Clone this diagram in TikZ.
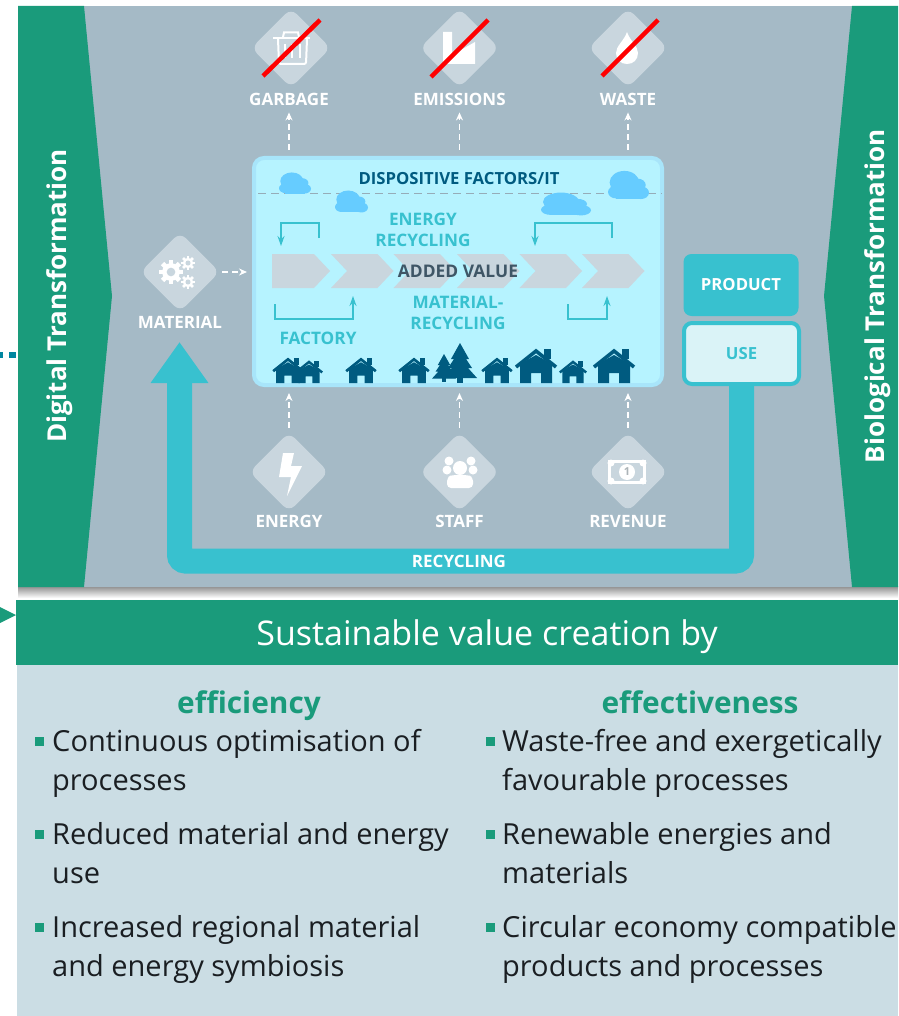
\documentclass[tikz,border=0pt]{standalone}
\usepackage{fontspec}
\setmainfont{Open Sans}
\usetikzlibrary{arrows.meta}
\definecolor{panelgray}{RGB}{165,186,198}
\definecolor{iconfill}{RGB}{201,214,222}
\definecolor{sidegreen}{RGB}{26,155,123}
\definecolor{loopteal}{RGB}{56,193,207}
\definecolor{factoryfill}{RGB}{182,243,255}
\definecolor{factoryedge}{RGB}{168,229,250}
\definecolor{cloudblue}{RGB}{102,204,255}
\definecolor{housedark}{RGB}{0,91,128}
\definecolor{usefill}{RGB}{218,243,247}
\definecolor{lowerfill}{RGB}{203,221,228}
\definecolor{bodytext}{RGB}{26,30,34}
\definecolor{addedgray}{RGB}{63,86,102}
\definecolor{splitgray}{RGB}{150,172,184}
\definecolor{dotteal}{RGB}{0,134,160}

\newcommand{\myhouse}[3]{
  \begin{scope}[shift={(#1,#2)},x=#3pt,y=-#3pt]
    \fill[housedark] (-16,0) -- (-16,-19) -- (0,-28) -- (16,-19) -- (16,0) -- (5,0) -- (5,-10) -- (-5,-10) -- (-5,0) -- cycle;
    \fill[housedark] (8,-34) rectangle (15,-24);
    \draw[housedark,line width=#3*3.6pt] (-20,-16) -- (0,-32) -- (20,-16);
  \end{scope}
}
\newcommand{\mytree}[3]{
  \begin{scope}[shift={(#1,#2)},x=#3pt,y=-#3pt]
    \fill[housedark] (-3,0) rectangle (3,-8);
    \fill[housedark] (-17,-5) -- (-8,-15) -- (-12,-15) -- (-6,-24) -- (-9,-24) -- (0,-40) -- (9,-24) -- (6,-24) -- (12,-15) -- (8,-15) -- (17,-5) -- cycle;
  \end{scope}
}
\newcommand{\mycloud}[4]{
  \begin{scope}[shift={(#1,#2)},x=#3pt,y=-#4pt]
    \fill[cloudblue] (.2,.72) circle[radius=.2];
    \fill[cloudblue] (.8,.74) circle[radius=.2];
    \fill[cloudblue] (.4,.42) circle[radius=.36];
    \fill[cloudblue] (.72,.5) circle[radius=.2];
    \fill[cloudblue] (.2,.55) rectangle (.8,.94);
  \end{scope}
}
\newcommand{\mygear}[3]{
  \fill[white] (#1,#2) circle[radius=#3*.74];
  \foreach \toothangle in {0,45,...,315}
    \fill[white,rotate around={\toothangle:(#1,#2)}] (#1-#3*.2,#2) rectangle (#1+#3*.2,#2-#3);
  \fill[iconfill] (#1,#2) circle[radius=#3*.36];
}

\begin{document}
\begin{tikzpicture}[x=1pt,y=-1pt,node distance=51pt]
    \tikzstyle{iconbox} = [rectangle, rotate=45, minimum size=56pt, rounded corners=8pt, fill=iconfill]
    \tikzstyle{iconlabel} = [text=white, font=\fontsize{17}{19}\selectfont\bfseries, inner sep=1pt]
    \tikzstyle{dasharrow} = [white, dashed, dash pattern=on 6pt off 4pt, line width=1.5pt, -{Stealth[length=8pt,width=7pt]}]
    \tikzstyle{loopline} = [loopteal, line width=1.4pt, -{Stealth[length=10pt,width=7pt]}]
    \tikzstyle{redstroke} = [red, line width=4.5pt]
    \tikzstyle{looptext} = [text=loopteal, font=\fontsize{17.2}{21}\selectfont\bfseries, inner sep=0pt, align=center]
    \tikzstyle{sidetext} = [text=white, font=\fontsize{26}{30}\selectfont\bfseries, rotate=90, inner sep=0pt]
    \tikzstyle{itemtext} = [text=bodytext, font=\fontsize{29}{39}\selectfont, anchor=west, align=left, inner sep=0pt]
    \tikzstyle{itemmark} = [fill=sidegreen, minimum size=9pt, inner sep=0pt]
    \tikzstyle{headtext} = [text=sidegreen, font=\fontsize{29.8}{34}\selectfont\bfseries, inner sep=0pt, anchor=base]

    \useasboundingbox (0,0) rectangle (898,1016);

    % Background
    \shade[top color=gray!90, bottom color=white] (18,586) rectangle (898,598);
    \fill[panelgray] (18,6) rectangle (898,587);
    \fill[sidegreen] (18,6) -- (84,6) -- (112,296) -- (84,587) -- (18,587) -- cycle;
    \fill[sidegreen] (898,6) -- (852,6) -- (824,296) -- (852,587) -- (898,587) -- cycle;
    \fill[dotteal] (0,352) rectangle (3,358);
    \fill[dotteal] (9,352) rectangle (16,358);
    \fill[sidegreen] (0,607) -- (16,615) -- (0,623) -- cycle;

    \node [sidetext] (digital) at (60,296) {Digital Transformation};
    \node [sidetext] (biological) at (878,296) {Biological Transformation};

    % Recycling loop
    \node [rectangle, rounded corners=8pt, fill=loopteal, minimum width=115pt, minimum height=62pt, text=white, font=\fontsize{16.7}{19}\selectfont\bfseries] (product) at (741,285) {PRODUCT};
    \node [rectangle, rounded corners=8pt, draw=loopteal, line width=4pt, fill=usefill, minimum width=115pt, minimum height=61pt, text=loopteal, font=\fontsize{16.7}{19}\selectfont\bfseries] (use) at (741.5,353.5) {USE};
    \node [iconlabel] (recycling) at (459,561) {};
    \coordinate (loopend) at (179.5,342);
    \draw [loopteal, line width=25pt, rounded corners=6pt, -{Triangle[length=41pt,width=55pt]}] (use.south) |- (recycling.center) -| (loopend);
    \node [iconlabel] at (recycling) {RECYCLING};

    % Factory
    \node [rectangle, rounded corners=10pt, draw=factoryedge, line width=4pt, fill=factoryfill, minimum width=408pt, minimum height=227pt] (factory) at (458,271.5) {};
    \coordinate (splitleft) at (258,193.5);
    \coordinate (splitright) at (662,193.5);
    \draw [splitgray, dashed, dash pattern=on 8pt off 5pt, line width=1.2pt] (splitleft) -- (splitright);
    \mycloud{279}{171}{32}{24}
    \mycloud{335}{189}{33}{25}
    \mycloud{541}{191}{50}{26}
    \mycloud{608}{169}{41}{32}
    \node [text=housedark, font=\fontsize{16.7}{20}\selectfont\bfseries, inner sep=0pt] (dispositive) at (459,179) {DISPOSITIVE FACTORS/IT};

    % Value chain
    \fill[iconfill] (272,254) -- (314,254) -- (330,271) -- (314,288) -- (272,288) -- cycle;
    \foreach \chevstart in {331,393.5,457,519.5,582}
      \fill[iconfill] (\chevstart,254) -- ++(46.5,0) -- ++(16,17) -- ++(-16,17) -- ++(-46.5,0) -- ++(16,-17) -- cycle;
    \node [text=addedgray, font=\fontsize{17.4}{20}\selectfont\bfseries, inner sep=0pt] (addedvalue) at (458,271) {ADDED VALUE};

    \node [looptext] (energyloop) at (423,229.5) {ENERGY\\RECYCLING};
    \node [looptext] (materialloop) at (458,313) {MATERIAL-\\RECYCLING};
    \node [looptext] (factorylabel) at (318,338) {FACTORY};

    % Small loops
    \coordinate (ela) at (319,238);
    \coordinate (elb) at (281,223);
    \coordinate (elc) at (281,246);
    \coordinate (erla) at (612,238);
    \coordinate (erlb) at (535,223);
    \coordinate (erlc) at (535,246);
    \coordinate (mla) at (275,304);
    \coordinate (mlb) at (353,319);
    \coordinate (mlc) at (353,296);
    \coordinate (mrla) at (568,304);
    \coordinate (mrlb) at (607,319);
    \coordinate (mrlc) at (607,296);
    \draw [loopline] (ela) |- (elb) -- (elc);
    \draw [loopline] (erla) |- (erlb) -- (erlc);
    \draw [loopline] (mla) |- (mlb) -- (mlc);
    \draw [loopline] (mrla) |- (mrlb) -- (mrlc);

    % Houses
    \myhouse{288}{383}{.74}
    \myhouse{309}{383}{.66}
    \myhouse{361}{383}{.74}
    \myhouse{414}{383}{.74}
    \mytree{444}{382}{.7}
    \mytree{460}{383}{1}
    \myhouse{497}{383}{.74}
    \myhouse{536}{383}{1}
    \myhouse{573}{383}{.66}
    \myhouse{614}{383}{1}

    % Icons
    \node [iconbox] (garbageicon) at (291,48) {};
    \node [iconbox] (emissionsicon) at (459.5,48) {};
    \node [iconbox] (wasteicon) at (628,48) {};
    \node [iconbox] (materialicon) at (180,272) {};
    \node [iconbox] (energyicon) at (289,472) {};
    \node [iconbox] (stafficon) at (459.5,472) {};
    \node [iconbox] (revenueicon) at (628,472) {};

    % Labels
    \node [iconlabel, below of=garbageicon, xshift=-2pt] (garbage) {GARBAGE};
    \node [iconlabel, below of=emissionsicon] (emissions) {EMISSIONS};
    \node [iconlabel, below of=wasteicon] (waste) {WASTE};
    \node [iconlabel, below of=materialicon, yshift=1pt] (material) {MATERIAL};
    \node [iconlabel, below of=energyicon, yshift=1.5pt] (energy) {ENERGY};
    \node [iconlabel, below of=stafficon, yshift=1.5pt] (staff) {STAFF};
    \node [iconlabel, below of=revenueicon, yshift=1.5pt] (revenue) {REVENUE};

    % Dashed flows
    \draw [dasharrow, shorten <=6pt, shorten >=6pt] (factory.north -| garbage) -- (garbage.south);
    \draw [dasharrow, shorten <=6pt, shorten >=6pt] (factory.north -| emissions) -- (emissions.south);
    \draw [dasharrow, shorten <=6pt, shorten >=6pt] (factory.north -| waste) -- (waste.south);
    \draw [dasharrow, shorten <=44pt, shorten >=6pt] (energyicon.center) -- (factory.south -| energyicon.center);
    \draw [dasharrow, shorten <=44pt, shorten >=6pt] (stafficon.center) -- (factory.south -| stafficon.center);
    \draw [dasharrow, shorten <=44pt, shorten >=6pt] (revenueicon.center) -- (factory.south -| revenueicon.center);
    \draw [dasharrow, shorten <=42pt, shorten >=5pt] (materialicon.center) -- (factory.west |- materialicon.center);

    % Garbage bin
    \draw [white, line width=2pt, rounded corners=2pt] (278,39) -- (279,64) -- (306,64) -- (307,39);
    \draw [white, line width=2pt] (273,38) -- (310,38);
    \draw [white, line width=2pt] (283,37) -- (284,32.5) -- (298,32.5) -- (299,37);
    \draw [white, line width=2pt] (285,44) -- (285,58) (292,44) -- (292,58) (300,44) -- (300,58);
    % Factory icon
    \fill[white] (443,32) -- (452,32) -- (452,55) -- (475,42) -- (475,64) -- (443,64) -- cycle;
    % Drop
    \fill[white] (627,32) .. controls (624,41) and (616,46) .. (616,53) .. controls (616,60) and (621,64) .. (627,64) .. controls (633,64) and (638,60) .. (638,53) .. controls (638,46) and (630,41) .. (627,32) -- cycle;
    % Gears
    \mygear{171}{272}{12}
    \mygear{188}{263}{7}
    \mygear{188}{282}{7}
    % Lightning
    \fill[white] (283,453) -- (294,453) -- (291,466) -- (302,466) -- (287,496) -- (291,477) -- (279,477) -- cycle;
    % People
    \fill[white] (449,461) circle[radius=4.5];
    \fill[white] (471,461) circle[radius=4.5];
    \fill[white] (447,470) circle[radius=4.5];
    \fill[white] (473,470) circle[radius=4.5];
    \fill[iconfill] (460,468) circle[radius=8.5];
    \fill[white] (460,468) circle[radius=7];
    \fill[white, rounded corners=4pt] (447,488) -- (447,477) -- (452,475) -- (468,475) -- (473,477) -- (473,488) -- cycle;
    % Banknote
    \fill[white] (608,460) rectangle (646,484);
    \fill[iconfill] (611,463) rectangle (643,481);
    \fill[white] (611,463) circle[radius=3.5];
    \fill[white] (643,463) circle[radius=3.5];
    \fill[white] (611,481) circle[radius=3.5];
    \fill[white] (643,481) circle[radius=3.5];
    \fill[white] (627,472) circle[radius=8];
    \node [text=iconfill!60!gray, font=\fontsize{11}{12}\selectfont\bfseries, inner sep=0pt] (banknote) at (627,472) {1};

    % Crossed out
    \coordinate (garbagea) at (263,76);
    \coordinate (garbageb) at (320,20);
    \coordinate (emissionsa) at (431,77);
    \coordinate (emissionsb) at (488,20);
    \coordinate (wastea) at (602,76);
    \coordinate (wasteb) at (658,20);
    \draw [redstroke] (garbagea) -- (garbageb);
    \draw [redstroke] (emissionsa) -- (emissionsb);
    \draw [redstroke] (wastea) -- (wasteb);

    % Lower part
    \fill[lowerfill] (17,665) rectangle (898,1016);
    \fill[sidegreen] (16,600) rectangle (898,665);
    \node [text=white, font=\fontsize{34}{38}\selectfont, inner sep=0pt] (sustainable) at (487,637) {Sustainable value creation by};

    \node [headtext] (efficiency) at (249,713) {efficiency};
    \node [headtext] (effectiveness) at (700,713) {effectiveness};

    \node [itemtext] (optimisation) at (52,763.5) {Continuous optimisation of\\processes};
    \node [itemtext] (reduced) at (52,853.5) {Reduced material and energy\\use};
    \node [itemtext] (regional) at (52,949.5) {Increased regional material\\and energy symbiosis};
    \node [itemtext] (wastefree) at (502,763.5) {Waste-free and exergetically\\favourable processes};
    \node [itemtext] (renewable) at (502,853.5) {Renewable energies and\\materials};
    \node [itemtext] (circular) at (502,949.5) {Circular economy compatible\\products and processes};

    \node [itemmark] (marka) at (39.5,741) {};
    \node [itemmark] (markb) at (39.5,834) {};
    \node [itemmark] (markc) at (39.5,927) {};
    \node [itemmark] (markd) at (490,741) {};
    \node [itemmark] (marke) at (490,834) {};
    \node [itemmark] (markf) at (490,927) {};
\end{tikzpicture}
\end{document}
